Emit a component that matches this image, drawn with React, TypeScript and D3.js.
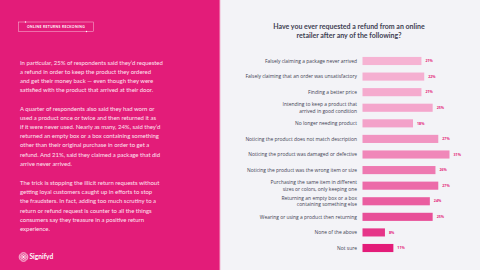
import React from "react";
import * as d3 from "d3";

const categories: string[][] = [
  ["Falsely claiming a package never arrived"],
  ["Falsely claiming that an order was unsatisfactory"],
  ["Finding a better price"],
  ["Intending to keep a product that", "arrived in good condition"],
  ["No longer needing product"],
  ["Noticing the product does not match description"],
  ["Noticing the product was damaged or defective"],
  ["Noticing the product was the wrong item or size"],
  ["Purchasing the same item in different", "sizes or colors, only keeping one"],
  ["Returning an empty box or a box", "containing something else"],
  ["Wearing or using a product then returning"],
  ["None of the above"],
  ["Not sure"],
];
const values: number[] = [21, 22, 21, 25, 18, 27, 31, 26, 27, 24, 25, 8, 11];

const titleLines = [
  "Have you ever requested a refund from an online",
  "retailer after any of the following?",
];

const paragraphs: string[][] = [
  [
    "In particular, 25% of respondents said they\u2019d requested",
    "a refund in order to keep the product they ordered",
    "and get their money back \u2014 even though they were",
    "satisfied with the product that arrived at their door.",
  ],
  [
    "A quarter of respondents also said they had worn or",
    "used a product once or twice and then returned it as",
    "if it were never used. Nearly as many, 24%, said they\u2019d",
    "returned an empty box or a box containing something",
    "other than their original purchase in order to get a",
    "refund. And 21%, said they claimed a package that did",
    "arrive never arrived.",
  ],
  [
    "The trick is stopping the illicit return requests without",
    "getting loyal customers caught up in efforts to stop",
    "the fraudsters. In fact, adding too much scrutiny to a",
    "return or refund request is counter to all the things",
    "consumers say they treasure in a positive return",
    "experience.",
  ],
];
const paragraphStarts = [64.5, 110.5, 185];

const W = 480;
const H = 270;
const PINK = "#e31c79";

export default function App() {
  const x = d3.scaleLinear().domain([0, 31]).range([362.5, 449.5]);
  const y = d3
    .scaleBand<number>()
    .domain(d3.range(values.length))
    .range([53.2, 255.8])
    .paddingInner(0.48)
    .paddingOuter(0.24);
  const color = d3
    .scaleLinear<string>()
    .domain([0, 4, 7, 10, 12])
    .range(["#f6b3d3", "#f3a2c9", "#ee79b1", "#e84f98", "#e31c79"])
    .interpolate(d3.interpolateRgb);

  const font = "Lato, 'Open Sans', sans-serif";
  const labelFont = "'Open Sans', sans-serif";

  return (
    <svg
      width={W}
      height={H}
      style={{ position: "fixed", left: 0, top: 0 }}
      viewBox={`0 0 ${W} ${H}`}
    >
      <rect x={0} y={0} width={W} height={H} fill="#f3f3f7" />
      <rect x={0} y={0} width={220} height={H} fill={PINK} />
      <rect x={219} y={0} width={1.2} height={H} fill="#ee5fa0" />

      {/* tag box */}
      <rect x={18.5} y={22} width={75} height={9.5} fill="none" stroke="#f9c2dc" strokeWidth={0.5} />
      <circle cx={25.5} cy={22} r={0.7} fill="#fff" />
      <circle cx={86.5} cy={31.5} r={0.7} fill="#fff" />
      <text
        x={56}
        y={28.1}
        textAnchor="middle"
        fontFamily={font}
        fontSize={3.4}
        fontWeight={700}
        letterSpacing={0.35}
        fill="#fff"
      >
        ONLINE RETURNS RECKONING
      </text>

      {/* paragraphs */}
      {paragraphs.map((lines, pi) => (
        <text
          key={pi}
          fontFamily={font}
          fontSize={5.95}
          fill="#fde4f0"
        >
          {lines.map((l, li) => (
            <tspan key={li} x={20} y={paragraphStarts[pi] + li * 9.2}>
              {l}
            </tspan>
          ))}
        </text>
      ))}

      {/* logo */}
      <g transform="translate(23.5,257)">
        <circle r={4.3} fill="none" stroke="#fff" strokeWidth={0.7} />
        {d3.range(6).map((i) => (
          <circle
            key={i}
            cx={Math.cos((i * Math.PI) / 3) * 1.6}
            cy={Math.sin((i * Math.PI) / 3) * 1.6}
            r={1.6}
            fill="none"
            stroke="#fff"
            strokeWidth={0.45}
          />
        ))}
      </g>
      <text x={29.5} y={259.2} fontFamily={font} fontSize={6.6} fontWeight={700} fill="#fff">
        Signifyd
      </text>

      {/* title */}
      <text
        textAnchor="middle"
        fontFamily={font}
        fontSize={7}
        fontWeight={700}
        fill="#3e3e52"
      >
        {titleLines.map((t, i) => (
          <tspan key={i} x={349} y={28.5 + i * 9.8}>
            {t}
          </tspan>
        ))}
      </text>

      {/* bars */}
      {values.map((v, i) => {
        const by = y(i)!;
        const bh = y.bandwidth();
        const cy = by + bh / 2;
        const lines = categories[i];
        return (
          <g key={i}>
            <rect x={x(0)} y={by} width={x(v) - x(0)} height={bh} fill={color(i)} />
            <text
              textAnchor="end"
              fontFamily={labelFont}
              fontSize={4.95}
              fill="#3e3e52"
            >
              {lines.map((l, li) => (
                <tspan
                  key={li}
                  x={357}
                  y={cy + 1.7 + (li - (lines.length - 1) / 2) * 6.4}
                >
                  {l}
                </tspan>
              ))}
            </text>
            <text
              x={x(v) + 4}
              y={cy + 1.2}
              fontFamily={labelFont}
              fontSize={3.6}
              fontWeight={700}
              fill={PINK}
            >
              {v}%
            </text>
          </g>
        );
      })}
    </svg>
  );
}
